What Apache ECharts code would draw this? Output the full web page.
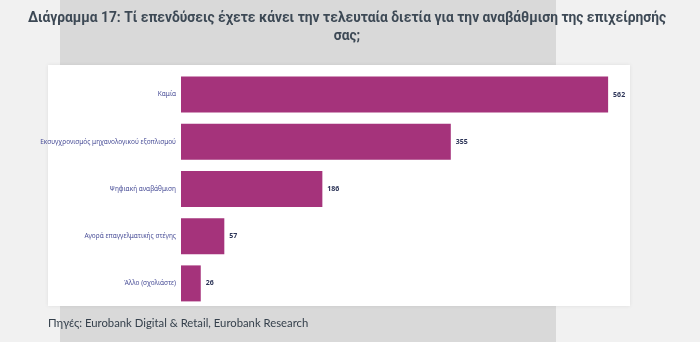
<!DOCTYPE html>
<html>
<head>
<meta charset="utf-8">
<script src="https://cdn.jsdelivr.net/npm/echarts@6/dist/echarts.min.js"></script>
<style>
  html, body { margin: 0; padding: 0; background: #f1f1f1; }
  #chart { width: 700px; height: 342px; }
</style>
</head>
<body>
<div id="chart"></div>
<script>
// Investment types over the last two years (number of businesses)
const categories = [
  'Καμία',
  'Εκσυγχρονισμός μηχανολογικού εξοπλισμού',
  'Ψηφιακή αναβάθμιση',
  'Αγορά επαγγελματικής στέγης',
  'Άλλο (σχολιάστε)'
];
const counts = [562, 355, 186, 57, 26];

const titleText = 'Διάγραμμα 17: Τί επενδύσεις έχετε κάνει την τελευταία διετία για την αναβάθμιση της επιχείρησής\nσας;';
const sourceText = 'Πηγές: Eurobank Digital & Retail, Eurobank Research';

const chart = echarts.init(document.getElementById('chart'), null, { renderer: 'canvas' });

chart.setOption({
  backgroundColor: '#f1f1f1',
  animation: false,
  graphic: [
    { type: 'rect', z: -20, shape: { x: 60, y: 0, width: 496, height: 342 }, style: { fill: '#d9d9d9' } },
    {
      type: 'rect', z: -10,
      shape: { x: 48, y: 65, width: 582, height: 241 },
      style: { fill: '#ffffff', shadowBlur: 4, shadowColor: 'rgba(0,0,0,0.08)' }
    },
    {
      type: 'text', z: 10,
      style: {
        x: 347, y: 10, text: titleText, textAlign: 'center',
        font: 'bold 13.8px "Roboto", sans-serif', fill: '#3d4955', lineHeight: 18
      }
    },
    {
      type: 'text', z: 10,
      style: {
        x: 48, y: 318, text: sourceText,
        font: '11.3px "Lato", sans-serif', fill: '#35404c'
      }
    }
  ],
  grid: { left: 181, right: 63, top: 71, bottom: 35 },
  xAxis: {
    type: 'value', min: 0, max: 600, show: false
  },
  yAxis: {
    type: 'category', inverse: true, data: categories,
    axisLine: { show: false }, axisTick: { show: false },
    axisLabel: { margin: 5, fontSize: 6.5, color: '#4a4f98', fontFamily: '"Noto Sans", sans-serif' }
  },
  series: [{
    type: 'bar', data: counts, barWidth: 36,
    itemStyle: { color: '#a5337b' },
    label: {
      show: true, position: 'right', distance: 5,
      fontSize: 7, fontWeight: 'bold', color: '#2d3558', fontFamily: '"Noto Sans", sans-serif'
    }
  }]
});
</script>
</body>
</html>
